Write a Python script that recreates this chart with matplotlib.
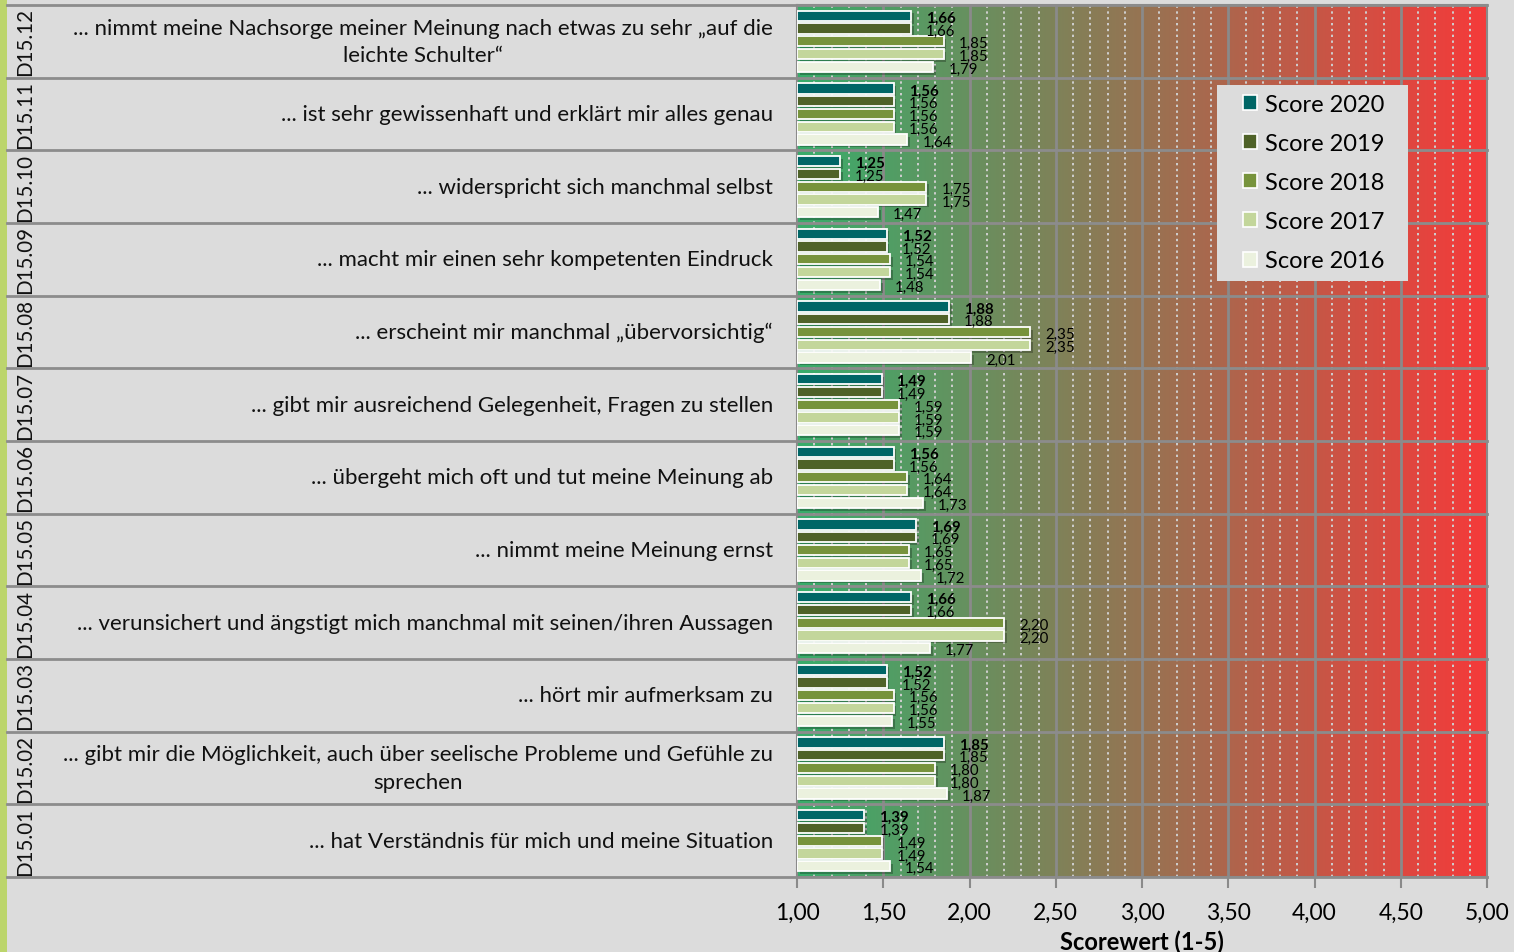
import matplotlib
matplotlib.use("Agg")
import matplotlib.pyplot as plt
import numpy as np
from matplotlib import transforms
from matplotlib.colors import LinearSegmentedColormap
from matplotlib.patches import Rectangle, Patch
from matplotlib.lines import Line2D
import matplotlib.patheffects as pe

plt.rcParams['font.family'] = ['Lato', 'DejaVu Sans']

codes = ["D15.12", "D15.11", "D15.10", "D15.09", "D15.08", "D15.07",
         "D15.06", "D15.05", "D15.04", "D15.03", "D15.02", "D15.01"]
labels = [
    "... nimmt meine Nachsorge meiner Meinung nach etwas zu sehr „auf die\nleichte Schulter“",
    "... ist sehr gewissenhaft und erklärt mir alles genau",
    "... widerspricht sich manchmal selbst",
    "... macht mir einen sehr kompetenten Eindruck",
    "... erscheint mir manchmal „übervorsichtig“",
    "... gibt mir ausreichend Gelegenheit, Fragen zu stellen",
    "... übergeht mich oft und tut meine Meinung ab",
    "... nimmt meine Meinung ernst",
    "... verunsichert und ängstigt mich manchmal mit seinen/ihren Aussagen",
    "... hört mir aufmerksam zu",
    "... gibt mir die Möglichkeit, auch über seelische Probleme und Gefühle zu\nsprechen",
    "... hat Verständnis für mich und meine Situation",
]
series_names = ["Score 2020", "Score 2019", "Score 2018", "Score 2017", "Score 2016"]
score_2020 = [1.66, 1.56, 1.25, 1.52, 1.88, 1.49, 1.56, 1.69, 1.66, 1.52, 1.85, 1.39]
score_2019 = [1.66, 1.56, 1.25, 1.52, 1.88, 1.49, 1.56, 1.69, 1.66, 1.52, 1.85, 1.39]
score_2018 = [1.85, 1.56, 1.75, 1.54, 2.35, 1.59, 1.64, 1.65, 2.20, 1.56, 1.80, 1.49]
score_2017 = [1.85, 1.56, 1.75, 1.54, 2.35, 1.59, 1.64, 1.65, 2.20, 1.56, 1.80, 1.49]
score_2016 = [1.79, 1.64, 1.47, 1.48, 2.01, 1.59, 1.73, 1.72, 1.77, 1.55, 1.87, 1.54]
xticks = [1.0, 1.5, 2.0, 2.5, 3.0, 3.5, 4.0, 4.5, 5.0]

series = [score_2020, score_2019, score_2018, score_2017, score_2016]
colors = ["#006666", "#4f6228", "#77933c", "#c3d69b", "#ebf1de"]

W, H = 1514, 953
fig = plt.figure(figsize=(W / 100, H / 100), dpi=100, facecolor="#dcdcdc")
ax = fig.add_axes([797 / W, (H - 878) / H, 690 / W, 872 / H])
ax.set_facecolor("#dcdcdc")

n = len(codes)
ax.set_xlim(1.0, 5.0)
ax.set_ylim(-0.5, n - 0.5)

# gradient background
cmap = LinearSegmentedColormap.from_list("gr", ["#38ad6b", "#f53a3a"])
grad = np.linspace(0, 1, 256).reshape(1, -1)
ax.imshow(grad, extent=[1.0, 5.0, -0.5, n - 0.5], aspect="auto", cmap=cmap,
          zorder=0, interpolation="bilinear")

# grid
for xv in np.arange(1.1, 5.0, 0.1):
    if abs(round(xv * 2) - xv * 2) > 1e-6:
        ax.axvline(xv, color="#cfcfcf", lw=1.4, ls=(0, (1.2, 1.8)), zorder=1)
for xv in xticks[1:-1]:
    ax.axvline(xv, color="#8a8a8a", lw=2, zorder=1)

# row separator lines across whole figure
trans_fy = transforms.blended_transform_factory(fig.transFigure, ax.transData)
for k in range(n + 1):
    yb = k - 0.5
    fig.add_artist(Line2D([7 / W, 1487 / W], [yb, yb], transform=trans_fy,
                          color="#8c8c8c", lw=2, zorder=3))

# bars
pitch = 0.176
bh = 0.14
ypos = np.arange(n)[::-1]  # first category at top
for s, (vals, col, name) in enumerate(zip(series, colors, series_names)):
    yy = ypos + (2 - s) * pitch
    bars = ax.barh(yy, np.array(vals) - 1.0, left=1.0, height=bh, color=col,
                   edgecolor="white", linewidth=1.3, zorder=4, label=name)
    for b in bars:
        b.set_path_effects([pe.SimplePatchShadow(offset=(2, -2), shadow_rgbFace="#000000", alpha=0.25),
                            pe.Normal()])
    for y, v in zip(yy, vals):
        ax.annotate(f"{v:.2f}".replace(".", ","), xy=(v, y), xytext=(15, -2),
                    textcoords="offset pixels", ha="left", va="center",
                    fontsize=10.8, fontweight="bold" if s == 0 else "normal",
                    color="black", zorder=5)

# category labels and codes
for y, lab, code in zip(ypos, labels, codes):
    ax.text(773 / W, y, lab, transform=trans_fy, ha="right", va="center",
            multialignment="center", fontsize=16, color="#111111", linespacing=1.45)
    ax.text(25 / W, y, code, transform=trans_fy, ha="center", va="center",
            rotation=90, fontsize=14.8, color="#111111")

ax.set_yticks([])
ax.set_xticks(xticks)
ax.set_xticklabels([f"{v:.2f}".replace(".", ",") for v in xticks], fontsize=16.5)
ax.tick_params(axis="x", length=8, width=1.5, color="#8a8a8a", pad=10)
for sp in ax.spines.values():
    sp.set_color("#8a8a8a")
    sp.set_linewidth(1.5)
ax.set_xlabel("Scorewert (1-5)", fontsize=17, fontweight="bold", labelpad=5)

# left green stripe
fig.add_artist(Rectangle((0, 0), 7 / W, 1, transform=fig.transFigure,
                         facecolor="#bcd56c", edgecolor="none"))

# legend background box
fig.add_artist(Rectangle((1217 / W, (H - 282) / H), 191 / W, 196 / H,
                         transform=fig.transFigure, facecolor="#dcdcdc",
                         edgecolor="none", zorder=9))
handles = [Patch(facecolor=c, edgecolor="white", linewidth=1.2) for c in colors]
leg = fig.legend(handles, series_names, loc="upper left",
                 bbox_to_anchor=(1238 / W, (H - 90) / H), fontsize=17,
                 frameon=False, handlelength=0.6, handleheight=0.6,
                 handletextpad=0.35, labelspacing=0.77, borderpad=0.2,
                 borderaxespad=0)
leg.set_zorder(10)

fig.savefig("out.png", dpi=100, facecolor=fig.get_facecolor())
